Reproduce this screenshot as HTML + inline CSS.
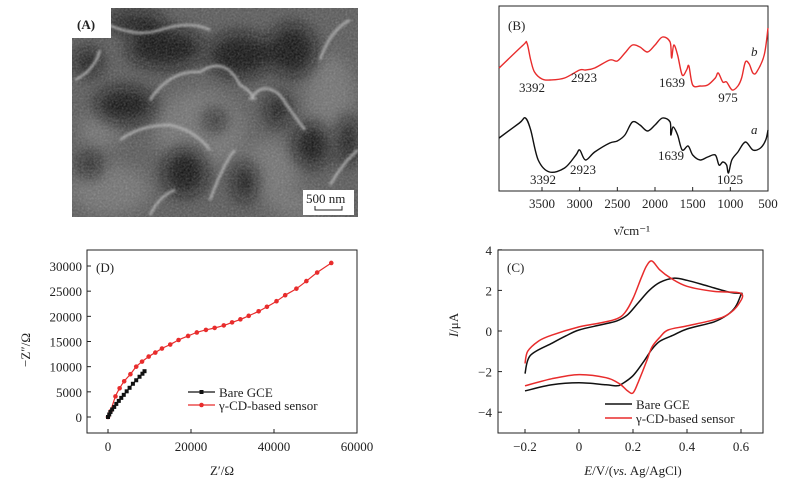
<!DOCTYPE html>
<html><head><meta charset="utf-8">
<style>
body{margin:0;background:#fff;width:786px;height:486px;overflow:hidden;font-family:"Liberation Serif",serif;}
svg text{font-family:"Liberation Serif",serif;font-size:13px;fill:#222;}
</style></head>
<body>
<svg id="fig" width="786" height="486" viewBox="0 0 786 486">
<defs>
<filter id="blur8" x="-50%" y="-50%" width="200%" height="200%"><feGaussianBlur stdDeviation="8"/></filter>
<filter id="blur4" x="-50%" y="-50%" width="200%" height="200%"><feGaussianBlur stdDeviation="4"/></filter>
<filter id="blur1" x="-50%" y="-50%" width="200%" height="200%"><feGaussianBlur stdDeviation="1.2"/></filter>
<filter id="noise"><feTurbulence type="fractalNoise" baseFrequency="0.5" numOctaves="3"/><feColorMatrix type="saturate" values="0"/><feComponentTransfer><feFuncA type="linear" slope="0.35"/></feComponentTransfer></filter>
<clipPath id="semclip"><rect x="72" y="8" width="286" height="209"/></clipPath>
</defs>
<g clip-path="url(#semclip)">
<rect x="72" y="8" width="286" height="209" fill="#555"/>
<g filter="url(#blur8)" fill="#707070">
<ellipse cx="200" cy="130" rx="45" ry="40"/><ellipse cx="110" cy="190" rx="40" ry="25"/>
<ellipse cx="270" cy="170" rx="30" ry="30"/><ellipse cx="330" cy="100" rx="25" ry="45"/>
<ellipse cx="100" cy="130" rx="20" ry="20"/><ellipse cx="300" cy="205" rx="30" ry="12"/>
</g>
<g filter="url(#blur8)" fill="#111">
<ellipse cx="165" cy="48" rx="38" ry="20"/><ellipse cx="88" cy="62" rx="14" ry="14"/>
<ellipse cx="125" cy="105" rx="30" ry="18"/><ellipse cx="240" cy="55" rx="32" ry="22"/>
<ellipse cx="292" cy="50" rx="24" ry="26"/><ellipse cx="185" cy="172" rx="22" ry="24"/>
<ellipse cx="245" cy="182" rx="12" ry="20"/><ellipse cx="312" cy="145" rx="18" ry="22"/>
<ellipse cx="348" cy="140" rx="10" ry="25"/><ellipse cx="215" cy="120" rx="10" ry="10"/>
<ellipse cx="278" cy="110" rx="12" ry="16"/><ellipse cx="135" cy="22" rx="30" ry="10"/>
<ellipse cx="90" cy="165" rx="10" ry="12"/>
</g>
<g filter="url(#blur1)" fill="none" stroke="#b8b8b8" stroke-width="2.2">
<path d="M150 100 Q170 70 200 72 Q225 55 240 85 Q250 90 255 100"/>
<path d="M250 100 Q262 80 280 95 Q290 110 305 130"/>
<path d="M120 140 Q140 125 170 125 Q195 130 210 150"/>
<path d="M75 80 Q95 70 100 50 M90 15 Q130 40 160 30 Q190 20 210 30"/>
<path d="M320 60 Q330 30 350 20 M330 185 Q345 160 358 150"/>
<path d="M150 215 Q160 195 175 190 M210 200 Q225 160 235 150"/>
</g>
<rect x="72" y="8" width="286" height="209" filter="url(#noise)"/>
<rect x="72" y="8" width="39" height="30" fill="#fff"/>
<text x="77" y="29" font-weight="bold">(A)</text>
<rect x="303" y="190" width="51" height="25" fill="#fff"/>
<text x="306" y="203">500 nm</text>
<path d="M315 206 V210 H342 V206" stroke="#222" fill="none"/>
</g>
<g id="pB"></g>
<g id="pD"></g>
<g id="pC"></g>
</svg>
<script>
// ---------- Panel B data (FTIR) ----------
const ftirWaveB = [4070,3750,3700,3650,3600,3500,3392,3200,3000,2923,2800,2600,2500,2400,2300,2200,2100,2000,1900,1800,1780,1750,1700,1639,1580,1550,1500,1400,1300,1200,1160,1100,1050,975,900,850,800,750,700,650,550,500];
const ftirSignalB = [132,155,157,140,128,121,120,122,130,130,132,140,139,147,155,153,148,155,163,158,142,155,145,125,130,134,115,114,115,122,127,118,118,110,114,122,138,136,127,128,145,172];
const ftirWaveA = [4070,3800,3720,3650,3550,3400,3200,3050,3000,2923,2800,2600,2500,2400,2300,2200,2100,2000,1900,1800,1790,1760,1700,1639,1560,1500,1400,1300,1200,1150,1100,1050,1025,980,900,800,700,600,530,500];
const ftirSignalA = [62,77,82,70,40,28,32,45,50,40,48,57,59,65,78,75,69,75,82,78,65,73,65,50,54,45,40,43,45,35,38,35,27,40,48,58,50,52,60,70];
const ftirXTicks = [3500,3000,2500,2000,1500,1000,500];
const ftirPeaks = [["3392",532,92],["2923",584,82],["1639",672,87],["975",728,102],["3392",543,184],["2923",583,174],["1639",671,160],["1025",730,184]];

// ---------- Panel D data (EIS) ----------
const eisBareRe = [0,300,600,1000,1500,2000,2600,3200,3800,4500,5200,6000,6800,7600,8300,8800];
const eisBareIm = [0,500,1000,1500,2000,2600,3200,3800,4400,5100,5800,6600,7300,8000,8600,9100];
const eisSensorRe = [0,600,1800,2800,3900,5400,6800,8200,9800,11400,13000,15000,17000,19300,21400,23600,25700,27900,29900,31900,33900,36300,38300,40600,42700,45400,47800,50400,53800];
const eisSensorIm = [0,1100,4100,5700,7100,8500,10000,11000,12000,12800,13600,14400,15300,16100,16800,17300,17700,18200,18800,19400,20100,21000,21900,23000,24200,25500,27000,28700,30600];
const eisXTicks = [0,20000,40000,60000];
const eisYTicks = [0,5000,10000,15000,20000,25000,30000];

// ---------- Panel C data (CV) ----------
const cvBareE = [-0.2,-0.18,-0.1,-0.05,0,0.08,0.14,0.18,0.22,0.26,0.3,0.35,0.4,0.48,0.56,0.6,0.6,0.58,0.55,0.5,0.4,0.35,0.3,0.27,0.24,0.2,0.16,0.14,0.1,0,-0.1,-0.2];
const cvBareI = [-2.1,-1.2,-0.6,-0.25,0.05,0.3,0.5,0.8,1.4,2.0,2.4,2.6,2.5,2.2,1.9,1.85,1.8,1.2,0.8,0.45,0.1,-0.2,-0.5,-0.9,-1.5,-2.2,-2.6,-2.7,-2.65,-2.55,-2.65,-2.95];
const cvSensorE = [-0.2,-0.19,-0.15,-0.1,0,0.08,0.14,0.17,0.2,0.23,0.25,0.27,0.3,0.34,0.4,0.5,0.6,0.59,0.55,0.5,0.4,0.33,0.3,0.27,0.25,0.22,0.2,0.18,0.15,0.1,0,-0.1,-0.2];
const cvSensorI = [-1.6,-1.0,-0.5,-0.2,0.2,0.4,0.6,0.9,1.6,2.6,3.2,3.45,3.0,2.6,2.2,1.95,1.85,1.3,0.8,0.55,0.25,0.05,-0.3,-0.8,-1.5,-2.5,-3.05,-2.95,-2.6,-2.3,-2.15,-2.35,-2.7];
const cvXTicks = [-0.2,0,0.2,0.4,0.6];
const cvYTicks = [-4,-2,0,2,4];

const NS="http://www.w3.org/2000/svg";
function mk(parent,tag,attrs,txt){const e=document.createElementNS(NS,tag);for(const k in attrs)e.setAttribute(k,attrs[k]);if(txt!==undefined)e.textContent=txt;parent.appendChild(e);return e;}
function pathOf(xs,ys,fx,fy){return xs.map((v,i)=>(i?'L':'M')+fx(v).toFixed(1)+' '+fy(ys[i]).toFixed(1)).join(' ');}
function smoothOf(xs,ys,fx,fy){
  const p=xs.map((v,i)=>[fx(v),fy(ys[i])]);
  let d='M'+p[0][0].toFixed(1)+' '+p[0][1].toFixed(1);
  for(let i=0;i<p.length-1;i++){
    const p0=p[Math.max(0,i-1)],p1=p[i],p2=p[i+1],p3=p[Math.min(p.length-1,i+2)];
    const c1=[p1[0]+(p2[0]-p0[0])/6,p1[1]+(p2[1]-p0[1])/6];
    const c2=[p2[0]-(p3[0]-p1[0])/6,p2[1]-(p3[1]-p1[1])/6];
    d+=' C'+c1[0].toFixed(1)+' '+c1[1].toFixed(1)+' '+c2[0].toFixed(1)+' '+c2[1].toFixed(1)+' '+p2[0].toFixed(1)+' '+p2[1].toFixed(1);
  }
  return d;
}
function fmtMinus(v){return String(v).replace('-','\u2212');}

// ===== Panel B =====
(function(){
const g=document.getElementById('pB');
const L=499,R=768,T=6,B=191;
const x=w=>542+(3500-w)*(226/3000);
const y=v=>200-v;
const frame=mk(g,'rect',{x:L,y:T,width:R-L,height:B-T,fill:'none',stroke:'#222','stroke-width':1});


ftirXTicks.forEach(t=>{
  const tk=mk(g,'line',{x1:x(t),x2:x(t),y1:B,y2:B-4,stroke:'#222'});
  
  
  const lb=mk(g,'text',{x:x(t),y:B+17,'text-anchor':'middle'},String(t));
  
  
});
const pb=mk(g,'path',{d:smoothOf(ftirWaveB,ftirSignalB,x,y),fill:'none',stroke:'#e82c2c','stroke-width':1.4});


const pa=mk(g,'path',{d:smoothOf(ftirWaveA,ftirSignalA,x,y),fill:'none',stroke:'#111','stroke-width':1.4});


ftirPeaks.forEach(p=>{
  const t=mk(g,'text',{x:p[1],y:p[2],'text-anchor':'middle'},p[0]);
  
  
});
const lbB=mk(g,'text',{x:508,y:30},'(B)');


const cb=mk(g,'text',{x:751,y:56,'font-style':'italic'},'b');


const ca=mk(g,'text',{x:751,y:134,'font-style':'italic'},'a');


const xt=mk(g,'text',{x:632,y:235,'text-anchor':'middle','font-size':'11'},'\u03BD\u0303/cm\u207B\u00B9');


})();

// ===== Panel D =====
(function(){
const g=document.getElementById('pD');
const L=87,R=357,T=250,B=433;
const x=v=>108+v*(249/60000);
const y=v=>417-v*(151/30000);
const frame=mk(g,'rect',{x:L,y:T,width:R-L,height:B-T,fill:'none',stroke:'#222'});


eisXTicks.forEach(t=>{
  const tk=mk(g,'line',{x1:x(t),x2:x(t),y1:B,y2:B-4,stroke:'#222'});
  
  
  const lb=mk(g,'text',{x:x(t),y:B+18,'text-anchor':'middle'},String(t));
  
  
});
eisYTicks.forEach(t=>{
  const tk=mk(g,'line',{x1:L,x2:L+4,y1:y(t),y2:y(t),stroke:'#222'});
  
  
  const lb=mk(g,'text',{x:L-5,y:y(t)+5,'text-anchor':'end'},String(t));
  
  
});
const ps=mk(g,'path',{d:smoothOf(eisSensorRe,eisSensorIm,x,y),fill:'none',stroke:'#e82c2c','stroke-width':1.2});


eisSensorRe.forEach((v,i)=>{
  const c=mk(g,'circle',{cx:x(v),cy:y(eisSensorIm[i]),r:2.3,fill:'#e82c2c'});
  
  
});
const pbr=mk(g,'path',{d:pathOf(eisBareRe,eisBareIm,x,y),fill:'none',stroke:'#111','stroke-width':1.2});


eisBareRe.forEach((v,i)=>{
  const s=mk(g,'rect',{x:x(v)-2,y:y(eisBareIm[i])-2,width:4,height:4,fill:'#111'});
  
  
});
const l1=mk(g,'line',{x1:188,x2:215,y1:392,y2:392,stroke:'#111','stroke-width':1.3});


const m1=mk(g,'rect',{x:199.5,y:390,width:4,height:4,fill:'#111'});


const t1=mk(g,'text',{x:219,y:397},'Bare GCE');


const l2=mk(g,'line',{x1:188,x2:215,y1:405,y2:405,stroke:'#e82c2c','stroke-width':1.3});


const m2=mk(g,'circle',{cx:201.5,cy:405,r:2.3,fill:'#e82c2c'});


const t2=mk(g,'text',{x:219,y:410},'\u03B3-CD-based sensor');


const lbD=mk(g,'text',{x:96,y:272},'(D)');


const xt=mk(g,'text',{x:222,y:475,'text-anchor':'middle'},'Z\u2032/\u03A9');


const yt=mk(g,'text',{x:0,y:0,'text-anchor':'middle',transform:'translate(30,350) rotate(-90)'},'\u2212Z\u2033/\u03A9');


})();

// ===== Panel C =====
(function(){
const g=document.getElementById('pC');
const L=498,R=763,T=250,B=433;
const x=v=>579+v*270;
const y=v=>331-v*20.3;
const frame=mk(g,'rect',{x:L,y:T,width:R-L,height:B-T,fill:'none',stroke:'#222'});


cvXTicks.forEach(t=>{
  const tk=mk(g,'line',{x1:x(t),x2:x(t),y1:B,y2:B-4,stroke:'#222'});
  
  
  const lb=mk(g,'text',{x:x(t),y:B+18,'text-anchor':'middle'},fmtMinus(t));
  
  
});
cvYTicks.forEach(t=>{
  const tk=mk(g,'line',{x1:L,x2:L+4,y1:y(t),y2:y(t),stroke:'#222'});
  
  
  const lb=mk(g,'text',{x:L-6,y:y(t)+5,'text-anchor':'end'},fmtMinus(t));
  
  
});
const pbk=mk(g,'path',{d:smoothOf(cvBareE,cvBareI,x,y),fill:'none',stroke:'#111','stroke-width':1.5,'stroke-linejoin':'round'});


const prd=mk(g,'path',{d:smoothOf(cvSensorE,cvSensorI,x,y),fill:'none',stroke:'#e82c2c','stroke-width':1.5,'stroke-linejoin':'round'});


const l1=mk(g,'line',{x1:605,x2:632,y1:404,y2:404,stroke:'#111','stroke-width':1.4});


const t1=mk(g,'text',{x:636,y:409},'Bare GCE');


const l2=mk(g,'line',{x1:605,x2:632,y1:418,y2:418,stroke:'#e82c2c','stroke-width':1.4});


const t2=mk(g,'text',{x:636,y:423},'\u03B3-CD-based sensor');


const lbC=mk(g,'text',{x:507,y:272},'(C)');


const xt=mk(g,'text',{x:633,y:475,'text-anchor':'middle'});


xt.innerHTML='<tspan font-style="italic">E</tspan>/V/(<tspan font-style="italic">vs.</tspan> Ag/AgCl)';
const yt=mk(g,'text',{x:0,y:0,'text-anchor':'middle',transform:'translate(458,325) rotate(-90)'});


yt.innerHTML='<tspan font-style="italic">I</tspan>/\u03BCA';
})();
</script>
</body></html>
